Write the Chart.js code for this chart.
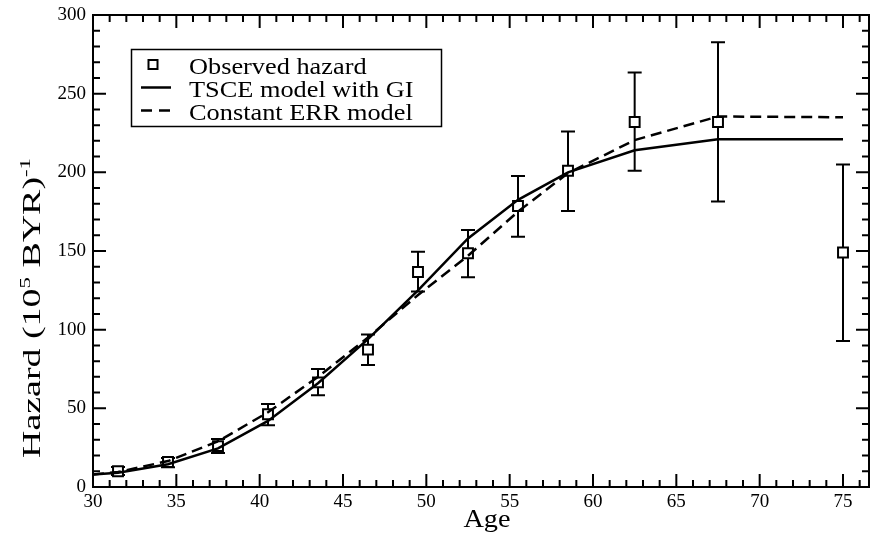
<!DOCTYPE html>
<html>
<head>
<meta charset="utf-8">
<script src="https://cdn.jsdelivr.net/npm/chart.js@4.4.1/dist/chart.umd.min.js"></script>
<style>
    html, body { margin: 0; padding: 0; background: #fff; }
    #wrap { width: 870px; height: 534px; }
</style>
</head>
<body>
<div id="wrap"><canvas id="chart" width="870" height="534"></canvas></div>
<script>
// observed hazard with error bars
var AGES = [31.5, 34.5, 37.5, 40.5, 43.5, 46.5, 49.5, 52.5, 55.5, 58.5, 62.5, 67.5, 75];
var OBSERVED = [10, 15.9, 26, 46.2, 66.5, 87.3, 136.7, 148.6, 178.6, 201, 232, 232, 149];
var OBS_LOW = [7.6, 12.5, 21.6, 39.2, 58.3, 77.6, 124.2, 133.3, 159, 175.5, 201, 181.4, 92.8];
var OBS_HIGH = [12.7, 18.5, 30.5, 52.8, 75, 97, 149.6, 163.4, 197.7, 225.9, 263.4, 282.7, 205];

// model curves
var MODEL_AGES = [30, 31.5, 34.5, 37.5, 40.5, 43.5, 46.5, 49.5, 52.5, 55.5, 58.5, 62.5, 67.5, 75];
var TSCE_GI = [8, 9, 14.5, 24.5, 42, 66, 94, 125, 158, 182.5, 200, 214, 221, 221];
var CONST_ERR = [8, 9.5, 16.5, 29, 47.5, 70, 95, 122, 147, 175, 199.5, 220.5, 235.5, 235];

// axis ticks
var X_MAJOR = [30, 35, 40, 45, 50, 55, 60, 65, 70, 75];
var X_MINOR = [31, 32, 33, 34, 36, 37, 38, 39, 41, 42, 43, 44, 46, 47, 48, 49, 51, 52, 53, 54,
    56, 57, 58, 59, 61, 62, 63, 64, 66, 67, 68, 69, 71, 72, 73, 74, 76];
var Y_MAJOR = [0, 50, 100, 150, 200, 250, 300];
var Y_MINOR = [10, 20, 30, 40, 60, 70, 80, 90, 110, 120, 130, 140, 160, 170, 180, 190,
    210, 220, 230, 240, 260, 270, 280, 290];

var LEGEND_LABELS = ['Observed hazard', 'TSCE model with GI', 'Constant ERR model'];

var SERIF = '"Liberation Serif", "Times New Roman", serif';

function pairs(xs, ys) {
    var out = [];
    for (var i = 0; i < xs.length; i++) {
        out.push({ x: xs[i], y: ys[i] });
    }
    return out;
}

function stretchText(ctx, text, x, y, sx) {
    ctx.save();
    ctx.translate(x, y);
    ctx.scale(sx, 1);
    ctx.fillText(text, 0, 0);
    ctx.restore();
}

var errorBars = {
    id: 'errorBars',
    beforeDatasetDraw: function (chart, args) {
        if (args.index !== 2) {
            return;
        }
        var ctx = chart.ctx;
        var xs = chart.scales.x;
        var ys = chart.scales.y;
        ctx.save();
        ctx.strokeStyle = '#000';
        ctx.lineWidth = 2;
        for (var i = 0; i < AGES.length; i++) {
            var px = xs.getPixelForValue(AGES[i]);
            var lo = ys.getPixelForValue(OBS_LOW[i]);
            var hi = ys.getPixelForValue(OBS_HIGH[i]);
            ctx.beginPath();
            ctx.moveTo(px, lo);
            ctx.lineTo(px, hi);
            ctx.moveTo(px - 7, lo);
            ctx.lineTo(px + 7, lo);
            ctx.moveTo(px - 7, hi);
            ctx.lineTo(px + 7, hi);
            ctx.stroke();
        }
        ctx.restore();
    }
};

var frameAndText = {
    id: 'frameAndText',
    afterDraw: function (chart) {
        var ctx = chart.ctx;
        var a = chart.chartArea;
        var xs = chart.scales.x;
        var ys = chart.scales.y;
        var i, p;

        ctx.save();
        ctx.strokeStyle = '#000';
        ctx.lineWidth = 2;
        ctx.strokeRect(a.left, a.top, a.right - a.left, a.bottom - a.top);

        // inward ticks on all four sides
        ctx.beginPath();
        function xTick(v, len) {
            p = xs.getPixelForValue(v);
            ctx.moveTo(p, a.bottom);
            ctx.lineTo(p, a.bottom - len);
            ctx.moveTo(p, a.top);
            ctx.lineTo(p, a.top + len);
        }
        function yTick(v, len) {
            p = ys.getPixelForValue(v);
            ctx.moveTo(a.left, p);
            ctx.lineTo(a.left + len, p);
            ctx.moveTo(a.right, p);
            ctx.lineTo(a.right - len, p);
        }
        for (i = 0; i < X_MAJOR.length; i++) { xTick(X_MAJOR[i], 13); }
        for (i = 0; i < X_MINOR.length; i++) { xTick(X_MINOR[i], 7); }
        for (i = 0; i < Y_MAJOR.length; i++) { yTick(Y_MAJOR[i], 13); }
        for (i = 0; i < Y_MINOR.length; i++) { yTick(Y_MINOR[i], 7); }
        ctx.stroke();

        // legend
        ctx.lineWidth = 1.5;
        ctx.strokeRect(131.5, 49.5, 310, 77);
        ctx.lineWidth = 2;
        ctx.fillStyle = '#fff';
        ctx.fillRect(148.5, 60, 9, 9);
        ctx.strokeRect(148.5, 60, 9, 9);
        ctx.lineWidth = 2.5;
        ctx.beginPath();
        ctx.moveTo(141, 87.5);
        ctx.lineTo(171, 87.5);
        ctx.stroke();
        ctx.setLineDash([11, 7]);
        ctx.beginPath();
        ctx.moveTo(141, 110.5);
        ctx.lineTo(171, 110.5);
        ctx.stroke();
        ctx.setLineDash([]);

        ctx.fillStyle = '#000';
        ctx.textBaseline = 'alphabetic';
        ctx.textAlign = 'left';
        ctx.font = '22.5px ' + SERIF;
        stretchText(ctx, LEGEND_LABELS[0], 189, 73.5, 1.17);
        stretchText(ctx, LEGEND_LABELS[1], 189, 96.8, 1.17);
        stretchText(ctx, LEGEND_LABELS[2], 189, 120, 1.17);

        // x title
        ctx.font = '25px ' + SERIF;
        ctx.textAlign = 'center';
        stretchText(ctx, 'Age', 487, 527, 1.13);

        // y title with superscripts, rotated
        var big = '25px ' + SERIF;
        var small = '15px ' + SERIF;
        var parts = [
            { t: 'Hazard (10', f: big, dy: 0 },
            { t: '5', f: small, dy: -10 },
            { t: ' BYR)', f: big, dy: 0 },
            { t: '-1', f: small, dy: -10 }
        ];
        var total = 0;
        for (i = 0; i < parts.length; i++) {
            ctx.font = parts[i].f;
            parts[i].w = ctx.measureText(parts[i].t).width;
            total += parts[i].w;
        }
        var span = 300;
        ctx.translate(40, 308);
        ctx.rotate(-Math.PI / 2);
        ctx.scale(span / total, 1.0);
        ctx.textAlign = 'left';
        var cx = -total / 2;
        for (i = 0; i < parts.length; i++) {
            ctx.font = parts[i].f;
            ctx.fillText(parts[i].t, cx, parts[i].dy);
            cx += parts[i].w;
        }
        ctx.restore();
    }
};

var tickFont = { family: SERIF, size: 19 };

new Chart(document.getElementById('chart'), {
    type: 'line',
    data: {
        datasets: [
            {
                label: LEGEND_LABELS[1],
                data: pairs(MODEL_AGES, TSCE_GI),
                borderColor: '#000',
                borderWidth: 2.5,
                pointRadius: 0,
                fill: false,
                tension: 0
            },
            {
                label: LEGEND_LABELS[2],
                data: pairs(MODEL_AGES, CONST_ERR),
                borderColor: '#000',
                borderWidth: 2.5,
                borderDash: [11, 6],
                pointRadius: 0,
                fill: false,
                tension: 0
            },
            {
                label: LEGEND_LABELS[0],
                data: pairs(AGES, OBSERVED),
                showLine: false,
                pointStyle: 'rect',
                pointRadius: 7,
                pointBorderWidth: 2,
                pointBorderColor: '#000',
                pointBackgroundColor: '#fff'
            }
        ]
    },
    options: {
        responsive: false,
        animation: false,
        events: [],
        layout: { autoPadding: false, padding: { top: 15, right: 1, left: 0, bottom: 0 } },
        plugins: {
            legend: { display: false },
            tooltip: { enabled: false }
        },
        scales: {
            x: {
                type: 'linear',
                min: 30,
                max: 76.56,
                border: { display: false },
                grid: { display: false, drawTicks: false },
                ticks: { font: tickFont, color: '#000', padding: 4, maxRotation: 0 },
                afterBuildTicks: function (s) {
                    s.ticks = X_MAJOR.map(function (v) { return { value: v }; });
                },
                afterFit: function (s) {
                    s.height = 47;
                    s.paddingLeft = 0;
                    s.paddingRight = 0;
                }
            },
            y: {
                type: 'linear',
                min: 0,
                max: 300,
                border: { display: false },
                grid: { display: false, drawTicks: false },
                ticks: { font: tickFont, color: '#000', padding: 7 },
                afterBuildTicks: function (s) {
                    s.ticks = Y_MAJOR.map(function (v) { return { value: v }; });
                },
                afterFit: function (s) {
                    s.width = 93;
                    s.paddingTop = 0;
                    s.paddingBottom = 0;
                }
            }
        }
    },
    plugins: [errorBars, frameAndText]
});
</script>
</body>
</html>
